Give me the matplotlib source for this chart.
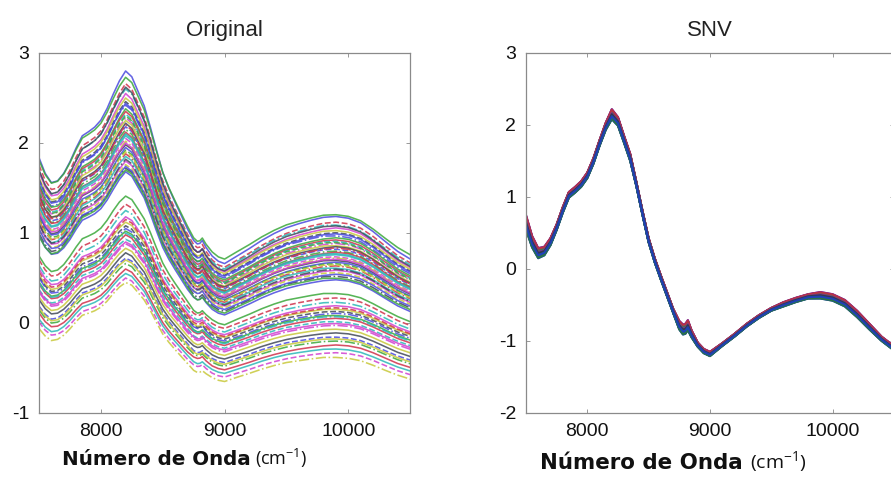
import numpy as np
import matplotlib
matplotlib.use('Agg')
import matplotlib.pyplot as plt

plt.rcParams['axes.unicode_minus'] = False
plt.rcParams['font.family'] = 'Liberation Sans'
plt.rcParams['mathtext.fontset'] = 'custom'
plt.rcParams['mathtext.rm'] = 'Open Sans'

# wavenumber knots (cm-1)
wavenumber = [7500, 7550, 7600, 7650, 7700, 7750, 7800, 7850, 7900, 7950,
              8000, 8050, 8100, 8150, 8200, 8250, 8300, 8350, 8400, 8450,
              8500, 8550, 8600, 8650, 8700, 8750, 8780, 8800, 8820, 8850,
              8900, 8950, 9000, 9100, 9200, 9300, 9400, 9500, 9600, 9700,
              9800, 9900, 10000, 10100, 10200, 10300, 10400, 10500]

# lower / upper edge of the SNV band (right panel)
snv_low = [0.55, 0.30, 0.15, 0.19, 0.33, 0.54, 0.78, 0.99, 1.06, 1.14,
           1.26, 1.46, 1.71, 1.93, 2.08, 1.99, 1.75, 1.50, 1.15, 0.75,
           0.37, 0.09, -0.15, -0.38, -0.61, -0.84, -0.91, -0.90, -0.85, -0.95,
           -1.08, -1.17, -1.21, -1.07, -0.94, -0.80, -0.68, -0.58, -0.52, -0.46,
           -0.41, -0.41, -0.44, -0.52, -0.67, -0.84, -1.00, -1.13]
snv_high = [0.75, 0.46, 0.29, 0.31, 0.43, 0.62, 0.86, 1.07, 1.14, 1.22,
            1.34, 1.54, 1.79, 2.03, 2.22, 2.11, 1.85, 1.60, 1.21, 0.81,
            0.43, 0.15, -0.09, -0.32, -0.55, -0.72, -0.77, -0.76, -0.71, -0.85,
            -1.02, -1.11, -1.15, -1.03, -0.90, -0.76, -0.64, -0.54, -0.46, -0.40,
            -0.35, -0.32, -0.35, -0.43, -0.58, -0.76, -0.94, -1.07]

# each raw spectrum: absorbance at the 8200 peak and at the 9000 valley
peak_8200 = [2.80, 2.73, 2.66, 2.60, 2.55, 2.50, 2.46, 2.42, 2.38, 2.35,
             2.32, 2.28, 2.25, 2.22, 2.18, 2.15, 2.12, 2.08, 2.05, 2.02,
             1.98, 1.95, 1.92, 1.88, 1.85, 1.80, 1.76, 1.72, 1.68,
             1.41, 1.32, 1.25, 1.18, 1.12, 1.08, 1.05, 1.02, 0.98, 0.93,
             0.88, 0.83, 0.78, 0.72, 0.66, 0.60, 0.55, 0.50, 0.45,
             2.62, 2.44, 2.30, 2.20, 2.10, 2.00, 1.90, 1.82, 1.74, 1.70,
             1.15, 1.00, 0.90, 0.70]
valley_9000 = [0.66, 0.71, 0.62, 0.60, 0.57, 0.55, 0.53, 0.50, 0.48, 0.46,
               0.45, 0.43, 0.41, 0.40, 0.38, 0.36, 0.35, 0.33, 0.31, 0.30,
               0.28, 0.26, 0.25, 0.23, 0.21, 0.19, 0.17, 0.13, 0.09,
               -0.02, -0.06, -0.10, -0.13, -0.16, -0.18, -0.20, -0.22, -0.25, -0.28,
               -0.32, -0.36, -0.40, -0.44, -0.48, -0.52, -0.56, -0.60, -0.65,
               0.58, 0.52, 0.44, 0.39, 0.34, 0.29, 0.24, 0.20, 0.15, 0.11,
               -0.15, -0.23, -0.30, -0.46]
# where each spectrum sits inside the SNV band (0 = low edge, 1 = high edge)
band_pos = [0.5, 0.3, 0.7, 0.2, 0.9, 0.4, 0.6, 0.1, 0.8, 0.5,
            0.3, 0.7, 0.2, 0.9, 0.4, 0.6, 1.0, 0.5, 0.3, 0.7,
            0.2, 0.8, 0.4, 0.6, 0.1, 0.9, 0.5, 0.3, 0.7, 0.0,
            0.6, 0.4, 0.8, 0.2, 0.5, 0.9, 0.3, 0.7, 0.1, 0.6,
            0.4, 0.8, 0.2, 0.5, 1.0, 0.3, 0.7, 0.0,
            0.45, 0.65, 0.25, 0.85, 0.35, 0.55, 0.15, 0.75, 0.95, 0.05,
            0.6, 0.4, 0.5, 0.3]

raw_colors = ['#4a4adf', '#3aa83a', '#d0304a', '#2ab8b8', '#d040d0', '#c8c83a', '#404858']
snv_colors = ['#c03040', '#2a7a3a', '#8030a0', '#207878', '#303848', '#1f3fbf', '#3a8a3a']
styles = ['-', '-', '--', '-.']

x = np.array(wavenumber)
lo = np.array(snv_low)
hi = np.array(snv_high)
ipk = wavenumber.index(8200)
ivl = wavenumber.index(9000)

fig = plt.figure(figsize=(8.91, 4.84), dpi=100)
ax1 = fig.add_axes([0.0438, 0.1467, 0.4165, 0.7438])
ax2 = fig.add_axes([0.5903, 0.1467, 0.4130, 0.7438])

for i in range(len(peak_8200)):
    snv = lo + band_pos[i] * (hi - lo)
    raw = valley_9000[i] + (peak_8200[i] - valley_9000[i]) * (snv - snv[ivl]) / (snv[ipk] - snv[ivl])
    ax1.plot(x, raw, color=raw_colors[i % 7], ls=styles[i % 4], lw=1.15, alpha=0.85)
    ax2.plot(x, snv, color=snv_colors[i % 7], lw=1.5, alpha=0.9)

for ax, title, yl in [(ax1, 'Original', (-1, 3)), (ax2, 'SNV', (-2, 3))]:
    ax.set_xlim(7500, 10500)
    ax.set_ylim(*yl)
    ax.set_xticks([8000, 9000, 10000])
    ax.set_yticks(range(yl[0], yl[1] + 1))
    ax.tick_params(direction='in', length=3, width=0.6, color='#888888',
                   top=True, right=True, labelsize=14, pad=7, labelcolor='#111111')
    for s in ax.spines.values():
        s.set_color('#8a8a8a')
        s.set_linewidth(0.9)
    ax.set_title(title, fontsize=16, pad=12, color='#222222')

# axis labels (bold word part, regular unit part)
fig.text(0.0696, 0.040, 'Número de Onda', family='DejaVu Sans', weight='bold',
         fontsize=14.3, color='#111111')
fig.text(0.286, 0.040, r'(cm$^{\mathregular{-1}}$)', family='Open Sans',
         fontsize=13, color='#111111')
fig.text(0.606, 0.030, 'Número de Onda', family='DejaVu Sans', weight='bold',
         fontsize=15.4, color='#111111')
fig.text(0.842, 0.030, r'(cm$^{\mathregular{-1}}$)', family='Open Sans',
         fontsize=14, color='#111111')

fig.savefig('out.png', dpi=100)
